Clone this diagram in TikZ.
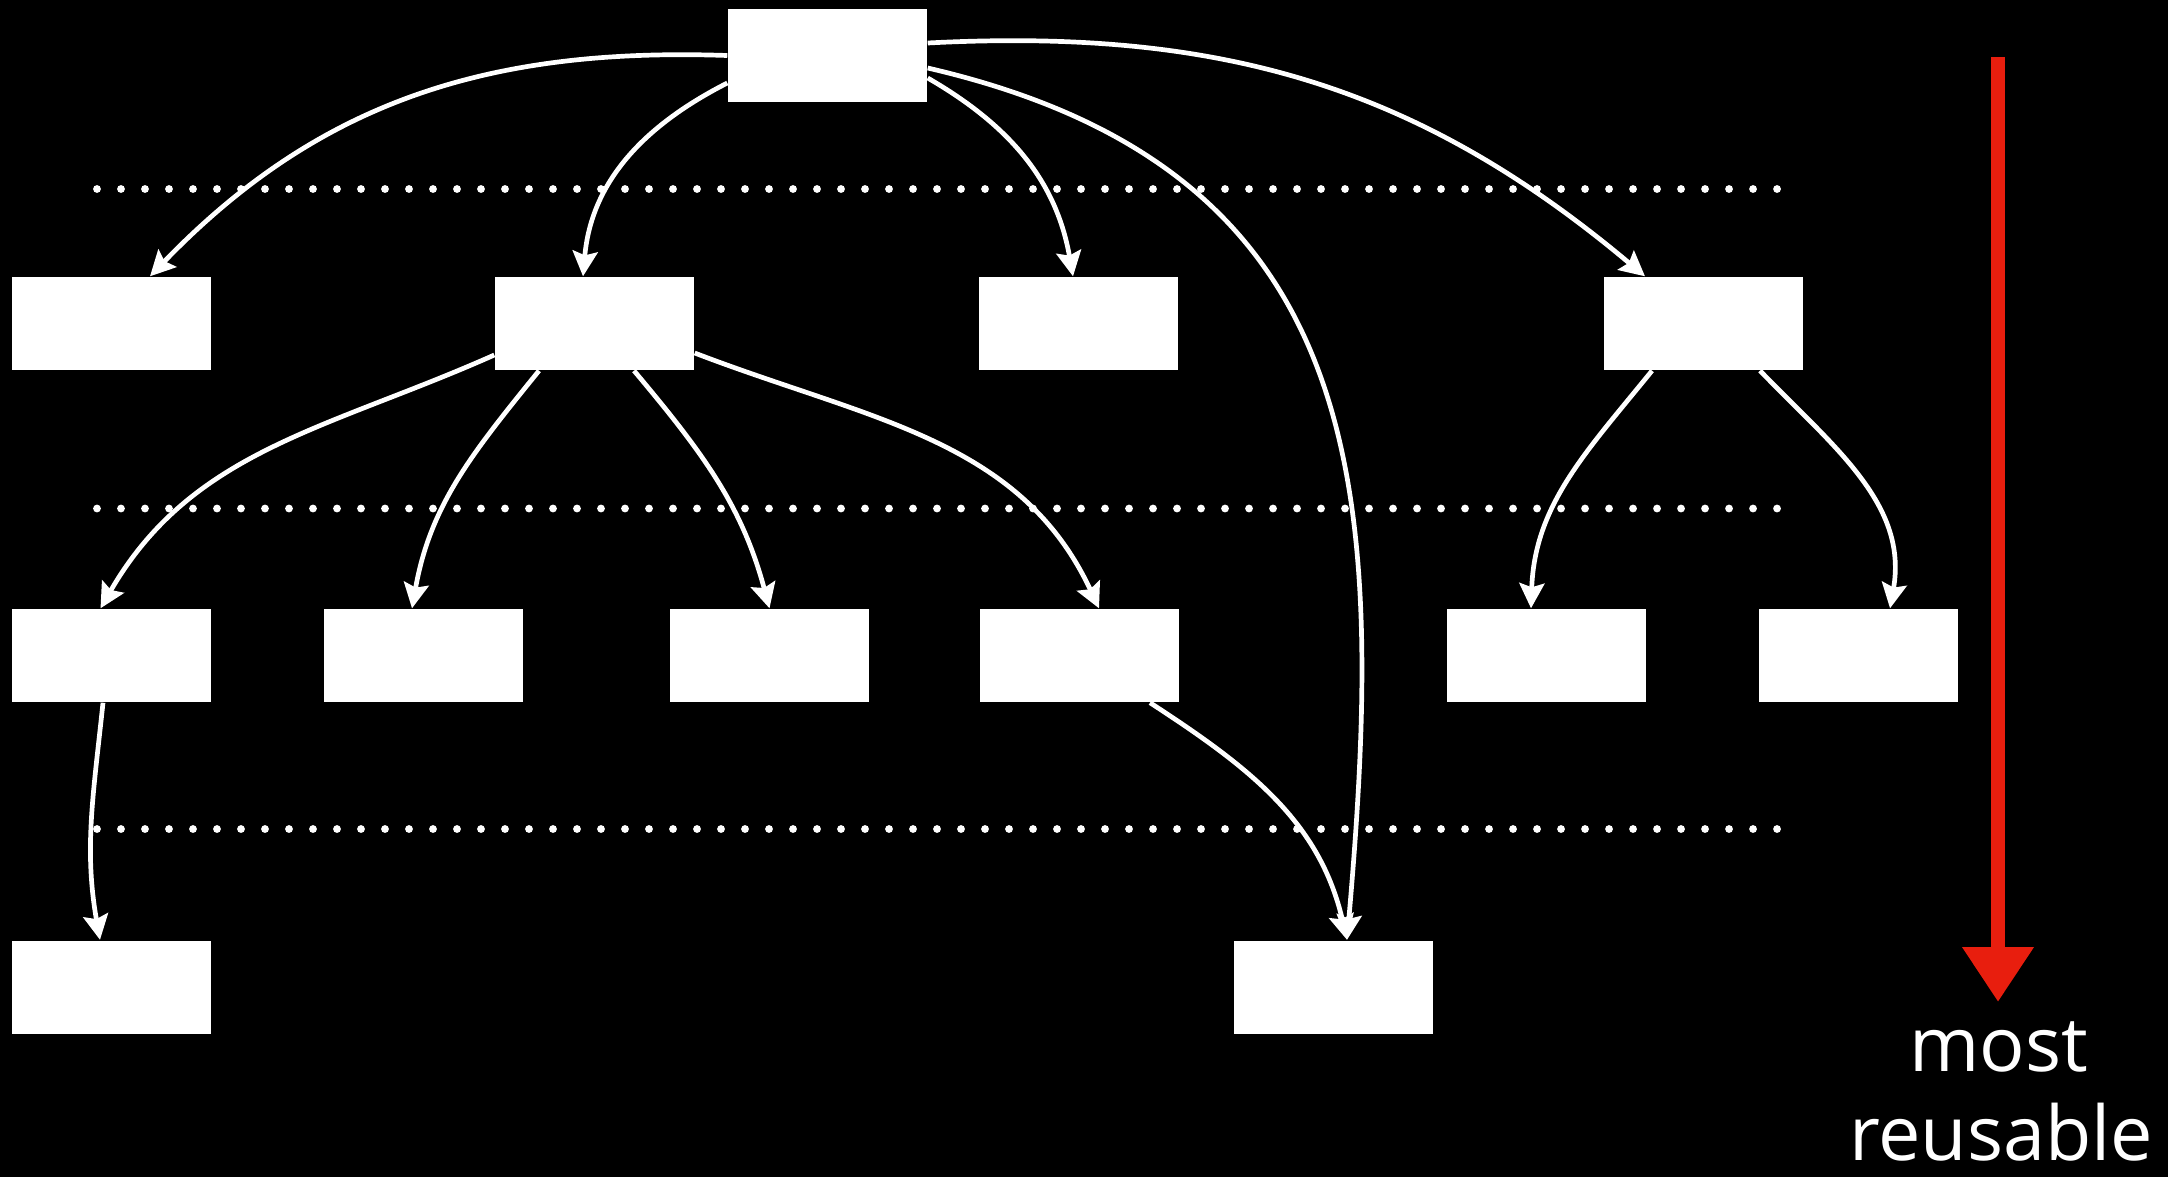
\documentclass[tikz,border=0pt]{standalone}
\usepackage{fontspec}
\setmainfont{Open Sans}
\usepackage{xcolor}
\usetikzlibrary{arrows.meta}
\usetikzlibrary{positioning}

\definecolor{chalkred}{RGB}{232,30,14}

\tikzset{
  box/.style={fill=white, minimum width=1.99cm, minimum height=0.93cm, inner sep=0pt},
  link/.style={white, line width=0.047cm, -{Stealth[length=0.25cm,width=0.25cm,inset=0.04cm]}},
  dotline/.style={white, line width=0.078cm, line cap=round, dash pattern=on 0pt off 0.24cm},
  label/.style={text=white, anchor=base, inner sep=0pt, font=\fontsize{21.5}{26}\selectfont},
}

\begin{document}
\begin{tikzpicture}
            \fill[black] (0,0) rectangle (21.68,-11.77);
            \useasboundingbox (0,0) rectangle (21.68,-11.77);
            % levels
            \foreach \y in {-1.89,-5.085,-8.29}
                \draw[dotline] (0.97,\y) -- (17.80,\y);
            \node[box] at (8.275,-0.555) (root) {};
            \node[box] at (1.115,-3.235) (a1) {};
            \node[box] at (5.945,-3.235) (a2) {};
            \node[box] at (10.78,-3.235) (a3) {};
            \node[box] at (17.03,-3.235) (a4) {};
            \node[box] at (1.115,-6.555) (b1) {};
            \node[box] at (4.23,-6.555) (b2) {};
            \node[box] at (7.695,-6.555) (b3) {};
            \node[box] at (10.79,-6.555) (b4) {};
            \node[box] at (15.465,-6.555) (b5) {};
            \node[box] at (18.585,-6.555) (b6) {};
            \node[box] at (1.115,-9.87) (c1) {};
            \node[box] at (13.33,-9.87) (c2) {};
            % edges
            \draw[link] (root.west) to[out=178,in=46] ([xshift=0.385cm]a1.north);
            \draw[link] ([yshift=-0.275cm]root.west) to[out=207,in=85] ([xshift=-0.115cm]a2.north);
            \draw[link] ([yshift=-0.225cm]root.east) to[out=-30,in=100] ([xshift=-0.05cm]a3.north);
            \draw[link] ([yshift=0.125cm]root.east) to[out=3,in=140] ([xshift=-0.58cm]a4.north);
            \draw[link] ([yshift=-0.125cm]root.east) to[out=-13,in=85,looseness=1.2] ([xshift=0.14cm]c2.north);
            \draw[link] ([yshift=-0.315cm]a2.west) to[out=204,in=60] ([xshift=-0.11cm]b1.north);
            \draw[link] ([xshift=-0.555cm]a2.south) to[out=231,in=80] ([xshift=-0.11cm]b2.north);
            \draw[link] ([xshift=0.395cm]a2.south) to[out=-50,in=105] (b3.north);
            \draw[link] ([yshift=-0.295cm]a2.east) to[out=-21,in=115] ([xshift=0.2cm]b4.north);
            \draw[link] ([xshift=-0.51cm]a4.south) to[out=231,in=88] ([xshift=-0.155cm]b5.north);
            \draw[link] ([xshift=0.57cm]a4.south) to[out=-46,in=80] ([xshift=0.315cm]b6.north);
            \draw[link] ([xshift=-0.085cm]b1.south) to[out=-96,in=100] ([xshift=-0.115cm]c1.north);
            \draw[link] ([xshift=0.71cm]b4.south) to[out=-33,in=103] ([xshift=0.14cm]c2.north);
            % red arrow
            \coordinate (rtop) at (19.98,-0.57);
            \coordinate (rtip) at (19.98,-10.02);
            \draw[chalkred, line width=0.14cm, -{Triangle[length=0.55cm,width=0.68cm]}] (rtop) -- (rtip);
            \node[label] at (19.99,-10.71) (most) {most};
            \node[label] at (20.01,-11.6) (reusable) {reusable};
        \end{tikzpicture}
\end{document}
